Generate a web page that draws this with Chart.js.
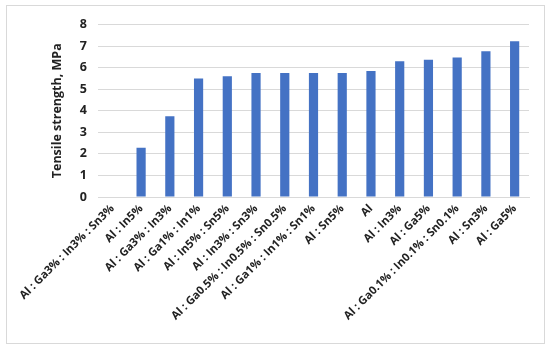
<!DOCTYPE html>
<html><head><meta charset="utf-8">
<script src="https://cdn.jsdelivr.net/npm/chart.js@4"></script>
<style>
html,body{margin:0;padding:0;background:#fff;}
#box{position:absolute;left:6px;top:5px;width:537px;height:337px;border:1px solid #d9d9d9;}
canvas{display:block;}
</style></head><body>
<div id="box"><canvas id="c" width="537" height="337"></canvas></div>
<script>
const categories = ["Al : Ga3% : In3% : Sn3%","Al : In5%","Al : Ga3% : In3%","Al : Ga1% : In1%","Al : In5% : Sn5%","Al : In3% : Sn3%","Al : Ga0.5% : In0.5% : Sn0.5%","Al : Ga1% : In1% : Sn1%","Al : Sn5%","Al","Al : In3%","Al : Ga5%","Al : Ga0.1% : In0.1% : Sn0.1%","Al : Sn3%","Al : Ga5%"];
const strength = [0.02,2.28,3.75,5.49,5.6,5.75,5.75,5.75,5.75,5.84,6.3,6.36,6.47,6.76,7.22];
const yTicks = [0,1,2,3,4,5,6,7,8];
const yTitle = "Tensile strength, MPa";

new Chart(document.getElementById('c'), {
  type: 'bar',
  data: { labels: categories, datasets: [{ data: strength, backgroundColor: '#4472C4', barPercentage: 0.32, categoryPercentage: 1 }] },
  options: {
    responsive: false, animation: false,
    layout: { padding: { left: 0, right: 15, top: 3.5, bottom: 0 } },
    plugins: { legend: { display: false }, tooltip: { enabled: false } },
    scales: {
      x: {
        afterFit: s => { s.height = 146; s.paddingLeft = 0; s.paddingRight = 0; },
        grid: { display: false, drawTicks: false },
        border: { color: '#d9d9d9' },
        ticks: { autoSkip: false, maxRotation: 45, minRotation: 45, color: '#222', padding: 5,
                 font: { family: 'Open Sans', size: 11.3, weight: 'bold' } }
      },
      y: {
        min: 0, max: 8,
        afterFit: s => { s.width = 91; },
        afterBuildTicks: ax => { ax.ticks = yTicks.map(v => ({ value: v })); },
        grid: { color: '#d9d9d9', drawTicks: false },
        border: { display: false },
        ticks: { color: '#222', padding: 11, font: { family: 'Open Sans', size: 12.5, weight: 'bold' } },
        title: { display: true, text: yTitle, color: '#222', padding: { top: 43, bottom: 0 }, font: { family: 'Open Sans', size: 12.5, weight: 'bold' } }
      }
    }
  }
});
</script></body></html>
